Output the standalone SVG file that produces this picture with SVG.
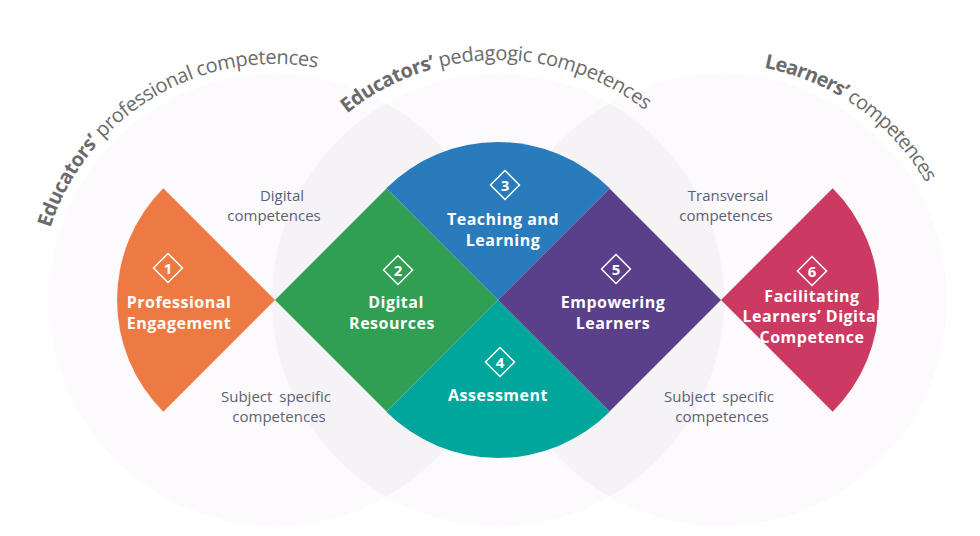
<svg xmlns="http://www.w3.org/2000/svg" width="980" height="536" viewBox="0 0 980 536">
<defs>
<style>
.bg{fill:#fdfafd}
.lens{fill:#f5f3f6}
.lbl{font-family:"Open Sans","Liberation Sans",sans-serif;font-weight:700;font-size:16px;fill:#ffffff;text-anchor:middle;letter-spacing:0.5px}
.num{font-family:"Open Sans","Liberation Sans",sans-serif;font-weight:700;font-size:15px;fill:#ffffff;text-anchor:middle}
.ico{fill:none;stroke:#ffffff;stroke-width:1.5}
.sub{font-family:"Open Sans","Liberation Sans",sans-serif;font-size:15px;fill:#5a6272;text-anchor:middle}
.arc{font-family:"Open Sans","Liberation Sans",sans-serif;font-size:20px;fill:#6b6b6b}
.b{font-weight:700}
</style>
<path id="arcL" d="M50.3,227.9 A236,236 0 0 1 336.1,72.0"/>
<path id="arcC" d="M347.0,113.5 A240,240 0 0 1 658.6,121.6"/>
<path id="arcR" d="M764.0,67.9 A236,236 0 0 1 934.9,200.3"/>
<clipPath id="cL"><circle cx="275" cy="300" r="226"/></clipPath>
<clipPath id="cR"><circle cx="721" cy="300" r="226"/></clipPath>
</defs>
<rect width="980" height="536" fill="#ffffff"/>
<g id="background">
<circle class="bg" cx="275" cy="300" r="226"/>
<circle class="bg" cx="498" cy="300" r="226"/>
<circle class="bg" cx="721" cy="300" r="226"/>
<circle class="lens" cx="498" cy="300" r="226" clip-path="url(#cL)"/>
<circle class="lens" cx="498" cy="300" r="226" clip-path="url(#cR)"/>
</g>
<g id="arc-titles">
<text class="arc"><textPath href="#arcL" textLength="340" lengthAdjust="spacing"><tspan class="b">Educators’</tspan> professional competences</textPath></text>
<text class="arc"><textPath href="#arcC" textLength="322" lengthAdjust="spacing"><tspan class="b">Educators’</tspan> pedagogic competences</textPath></text>
<text class="arc"><textPath href="#arcR" textLength="205" lengthAdjust="spacing"><tspan class="b">Learners’</tspan> competences</textPath></text>
</g>
<g id="sublabels">
<text class="sub" x="282" y="201">Digital</text>
<text class="sub" x="274" y="221">competences</text>
<text class="sub" x="276" y="402" word-spacing="3">Subject specific</text>
<text class="sub" x="279" y="422">competences</text>
<text class="sub" x="728" y="201">Transversal</text>
<text class="sub" x="726" y="221">competences</text>
<text class="sub" x="719" y="402" word-spacing="3">Subject specific</text>
<text class="sub" x="722" y="422">competences</text>
</g>
<g id="connectors"></g>
<g id="node1">
<path d="M275,300 L163.3,188.3 A158,158 0 0 0 163.3,411.7 Z" fill="#ee7a43"/>
<path class="ico" d="M168,253.5 L182.5,268 L168,282.5 L153.5,268 Z"/>
<text class="num" x="168" y="273.5">1</text>
<text class="lbl" x="179" y="308">Professional</text>
<text class="lbl" x="179" y="329">Engagement</text>
</g>
<g id="node2">
<path d="M275,300 L386.5,188.5 L498,300 L386.5,411.5 Z" fill="#319f53"/>
<path class="ico" d="M398,255.5 L412.5,270 L398,284.5 L383.5,270 Z"/>
<text class="num" x="398" y="275.5">2</text>
<text class="lbl" x="396" y="308">Digital</text>
<text class="lbl" x="392" y="329">Resources</text>
</g>
<g id="node3">
<path d="M498,300 L386.3,188.3 A158,158 0 0 1 609.7,188.3 Z" fill="#2a7bbb"/>
<path class="ico" d="M505,170.5 L519.5,185 L505,199.5 L490.5,185 Z"/>
<text class="num" x="505" y="190.5">3</text>
<text class="lbl" x="503" y="225">Teaching and</text>
<text class="lbl" x="503" y="246">Learning</text>
</g>
<g id="node4">
<path d="M498,300 L386.3,411.7 A158,158 0 0 0 609.7,411.7 Z" fill="#00a69b"/>
<path class="ico" d="M500,347.5 L514.5,362 L500,376.5 L485.5,362 Z"/>
<text class="num" x="500" y="367.5">4</text>
<text class="lbl" x="498" y="401">Assessment</text>
</g>
<g id="node5">
<path d="M498,300 L609.5,188.5 L721,300 L609.5,411.5 Z" fill="#5a3f8a"/>
<path class="ico" d="M616,254.5 L630.5,269 L616,283.5 L601.5,269 Z"/>
<text class="num" x="616" y="274.5">5</text>
<text class="lbl" x="613" y="308">Empowering</text>
<text class="lbl" x="613" y="329">Learners</text>
</g>
<g id="node6">
<path d="M721,300 L832.7,188.3 A158,158 0 0 1 832.7,411.7 Z" fill="#cc3a62"/>
<path class="ico" d="M812,256.5 L826.5,271 L812,285.5 L797.5,271 Z"/>
<text class="num" x="812" y="276.5">6</text>
<text class="lbl" x="812" y="302">Facilitating</text>
<text class="lbl" x="812" y="322">Learners’ Digital</text>
<text class="lbl" x="812" y="343">Competence</text>
</g>
</svg>
